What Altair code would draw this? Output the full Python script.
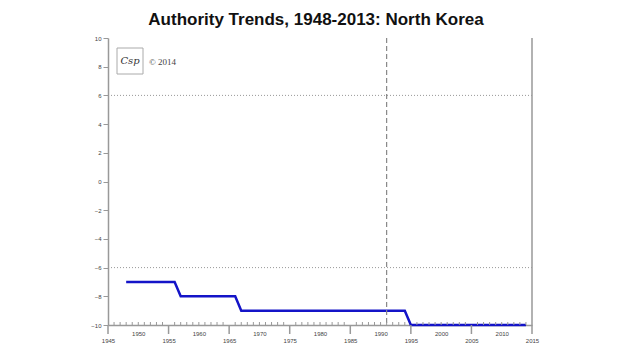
import altair as alt
import pandas as pd

# ---- data ----
change_years = [1948, 1956, 1957, 1966, 1967, 1994, 1995, 2014]
authority    = [-7,   -7,   -8,   -8,   -9,   -9,   -10,  -10]
ref_levels = [6, -6]
event_year = [1991]
x_min, x_max = 1945, 2015
y_min, y_max = -10, 10
label_years = list(range(1945, 2016, 5))
major_tick_years = list(range(1945, 2016, 10))
minor_tick_years = [y for y in range(1946, 2015) if y not in major_tick_years]
y_ticks = list(range(-10, 11, 2))

W, H = 424, 287

line_df = pd.DataFrame({"year": change_years, "authority": authority})
xs = alt.Scale(domain=[x_min, x_max], nice=False, zero=False)
ys = alt.Scale(domain=[y_min, y_max], nice=False)

x_axis = alt.Axis(values=label_years, format="d", ticks=False, grid=False,
                  domainColor="#999", domainWidth=1.5, labelFontSize=6,
                  labelColor="#444", labelFont="Liberation Sans",
                  labelBaseline="top", labelPadding=5, labelLineHeight=7,
                  labelExpr="datum.value % 10 == 5 ? ['', datum.label] : datum.label",
                  labelFlush=False, labelOverlap=False, title=None)
y_axis = alt.Axis(values=y_ticks, grid=False, domainColor="#999", domainWidth=1.5,
                  tickColor="#999", tickSize=5, labelFontSize=6, labelColor="#444",
                  labelFont="Liberation Sans", labelPadding=2, labelOverlap=False,
                  labelFlush=False, title=None)

def X(f):
    return alt.X(f, type="quantitative", scale=xs, axis=x_axis)

def Y(f):
    return alt.Y(f, type="quantitative", scale=ys, axis=y_axis)

line = alt.Chart(line_df).mark_line(color="#1414c8", strokeWidth=2.5).encode(
    x=X("year"), y=Y("authority"),
)

hrules = alt.Chart(pd.DataFrame({"lvl": ref_levels})).mark_rule(
    color="#999", strokeDash=[1, 2], strokeWidth=1
).encode(y=Y("lvl"), x=alt.value(0), x2=alt.value(W))

vrule = alt.Chart(pd.DataFrame({"yr": event_year})).mark_rule(
    color="#888", strokeDash=[5, 3], strokeWidth=1.2
).encode(x=X("yr"), y=alt.value(0), y2=alt.value(H))

border = alt.Chart(pd.DataFrame({"yr": [x_max]})).mark_rule(
    color="#999", strokeWidth=1.5
).encode(x=X("yr"), y=alt.value(0), y2=alt.value(H))

minor = alt.Chart(pd.DataFrame({"yr": minor_tick_years})).mark_rule(
    color="#999", strokeWidth=1
).encode(x=X("yr"), y=alt.value(H - 3), y2=alt.value(H))

major = alt.Chart(pd.DataFrame({"yr": major_tick_years})).mark_rule(
    color="#999", strokeWidth=1.5
).encode(x=X("yr"), y=alt.value(H), y2=alt.value(H + 9))

one = alt.Data(values=[{"a": 1}])
logo_box = alt.Chart(one).mark_square(
    size=676, filled=False, stroke="#aaa", strokeWidth=1, fill="white", fillOpacity=1
).encode(x=alt.value(22), y=alt.value(23))
logo_txt = alt.Chart(one).mark_text(
    text="Csp", font="DejaVu Serif", fontStyle="italic", fontSize=10, color="#333"
).encode(x=alt.value(22), y=alt.value(23))
copy_txt = alt.Chart(one).mark_text(
    text="© 2014", font="Liberation Serif", fontSize=9, color="#444", align="left"
).encode(x=alt.value(41), y=alt.value(24))

chart = alt.layer(line, hrules, vrule, border, minor, major, logo_box, logo_txt, copy_txt).properties(
    width=W, height=H,
    title=alt.Title("Authority Trends, 1948-2013: North Korea", font="Liberation Sans",
                    fontSize=17, fontWeight="bold", color="#111", anchor="middle",
                    dx=-4, offset=6),
    autosize=alt.AutoSizeParams(type="none"),
    padding={"left": 100, "top": 30, "right": 92, "bottom": 27},
).configure_view(stroke=None)

chart.save("out.html", embed_options={"renderer": "svg", "actions": False})
